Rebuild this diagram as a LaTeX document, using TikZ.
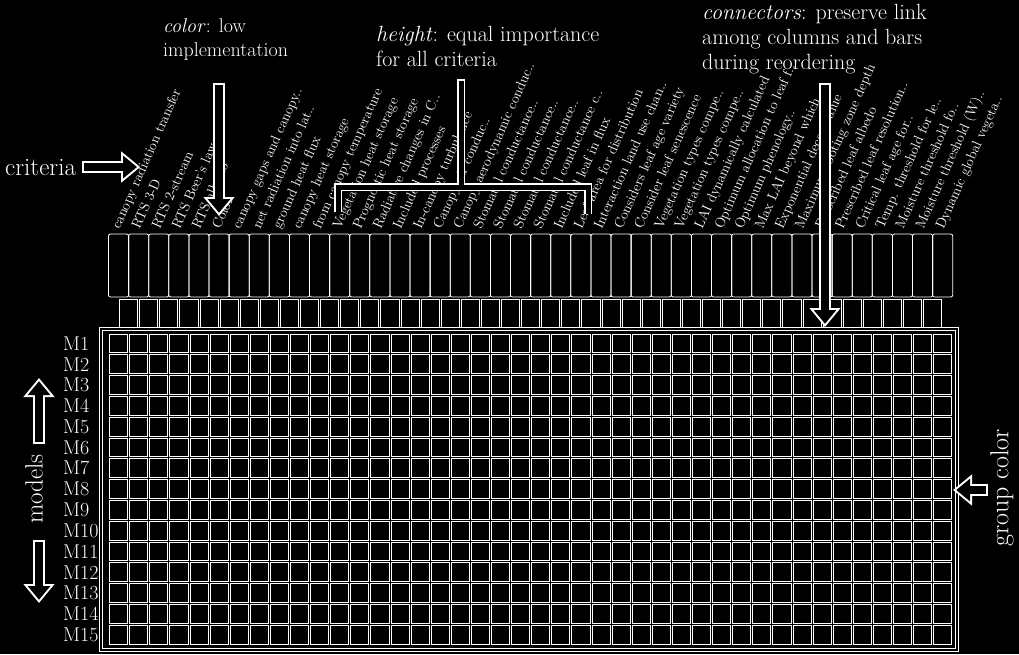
\documentclass[tikz,border=0pt]{standalone}
\usepackage{fontspec}
\usepackage{tikz}
\usetikzlibrary{arrows.meta,calc,positioning}

\tikzset{
  outline/.style={draw=white,line width=0.8pt},
  critlabel/.style={rotate=66,anchor=base west,inner sep=0pt,font=\fontsize{14}{14}\selectfont},
  modellabel/.style={anchor=west,inner sep=0pt,font=\fontsize{20}{20}\selectfont},
  note/.style={anchor=north west,align=left,inner sep=0pt,font=\fontsize{22}{25}\selectfont},
  sidelabel/.style={inner sep=0pt,font=\fontsize{25}{25}\selectfont},
  pointer/.style={draw=white,line width=12pt,-{Triangle[length=19pt,width=30pt]},
    postaction={draw=black,line width=8pt,shorten <=2pt,shorten >=3.2pt,-{Triangle[length=13.8pt,width=21.8pt]}}},
  band/.style={preaction={draw=white,line width=8pt,shorten <=0pt,shorten >=0pt},
    draw=black,line width=5pt,shorten <=1.5pt,shorten >=1.5pt}
}

\begin{document}
\begin{tikzpicture}[x=1pt,y=-1pt,every node/.append style={text=white}]
  \fill[black] (0,0) rectangle (1019,654);
  \useasboundingbox (0,0) rectangle (1019,654);

  % criteria names above the bars
  \foreach \lab [count=\k] in {canopy radiation transfer,RTS 3-D,RTS 2-stream,RTS Beer's law,RTS albedo,Color,
      canopy gaps and canopy..,net radiation into lat..,ground heat flux,canopy heat storage,from canopy temperature,
      Vegetation heat storage,Prognostic heat storage,Radiative changes in C..,Included processes,In-canopy turbulence,
      Canopy air conduc..,Canopy aerodynamic conduc..,Stomatal conductance..,Stomatal conductance..,
      Stomatal conductance..,Stomatal conductance c..,Included leaf in flux,Leaf area for distribution,
      Interaction land use chan..,Considers leaf age variety,Consider leaf senescence,Vegetation types compe..,
      Vegetation types compe..,LAI dynamically calculated,Optimum allocation to leaf f..,Optimum phenology..,
      Max LAI beyond which..,Exponential decay value,Maximum rooting zone depth,Prescribed leaf albedo,
      Prescribed leaf resolution..,Critical leaf age for..,Temp. threshold for le..,Moisture threshold fo..,
      Moisture threshold (W)..,Dynamic global vegeta..}
    \node[critlabel] (crit\k) at ({119.5+20.1*(\k-1)},230) {\lab};

  % bars, link boxes and the model matrix
  \foreach \k in {1,...,42}
    \draw[outline,rounded corners=2pt] ({108.5+20.1*(\k-1)},234) rectangle ++(20.1,63);
  \foreach \k in {1,...,41}
    \draw[outline] ({119.5+20.1*(\k-1)},299) rectangle ++(18.1,29);
  \draw[outline,double=black,double distance=2pt] (101,329) rectangle (957,650);
  \foreach \r in {1,...,15}{
    \node[modellabel] (m\r) at (63,{333+20.8*(\r-0.5)}) {M\r};
    \foreach \k in {1,...,42}
      \draw[outline] ({109.5+20.1*(\k-1)},{334+20.8*(\r-1)}) rectangle ++(18.1,18.8);
  }

  % annotations
  \node[note,font=\fontsize{20}{24}\selectfont] (colornote) at (163,18) {\textit{color}: low\\implementation};
  \node[note] (heightnote) at (376,26) {\textit{height}: equal importance\\for all criteria};
  \node[note] (linknote) at (702,4) {\textit{connectors}: preserve link\\among columns and bars\\during reordering};
  \node[sidelabel,anchor=base west] (criteria) at (5,175) {criteria};
  \node[sidelabel,rotate=90] (models) at (34,489) {models};
  \node[sidelabel,rotate=90,font=\fontsize{26}{26}\selectfont] (groupcolor) at (1002,488) {group color};

  \coordinate (critto) at ([xshift=64pt]criteria.east);
  \coordinate (modelsup) at (39,378);
  \coordinate (modelsdown) at (39,603);
  \coordinate (groupto) at (953,490);
  \coordinate (colorfrom) at (219,83);
  \coordinate (colorto) at (219,216);
  \coordinate (linkfrom) at (825,83);
  \coordinate (linkto) at (825,327);

  \draw[pointer] ([xshift=6pt]criteria.east) -- (critto);
  \draw[pointer] ($(models.east)+(5,-10)$) -- (modelsup);
  \draw[pointer] ($(models.west)+(5,16)$) -- (modelsdown);
  \draw[pointer] ($(groupcolor.north)+(-2,2)$) -- (groupto);
  \draw[pointer] (colorfrom) -- (colorto);
  \draw[pointer] (linkfrom) -- (linkto);
  \draw[band] (338,212) -- (338,187) -- (588,187) -- (588,214) (461,187) -- (461,79);
\end{tikzpicture}
\end{document}
